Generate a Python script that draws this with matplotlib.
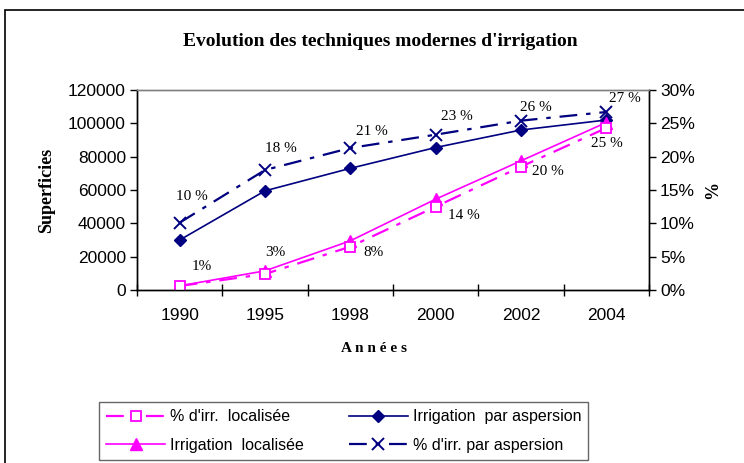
import matplotlib.pyplot as plt
import numpy as np
from matplotlib.patches import Rectangle

annees = ["1990", "1995", "1998", "2000", "2002", "2004"]
irr_aspersion = [30000, 59500, 73000, 85500, 96000, 102000]
irr_localisee = [2500, 11500, 29500, 54500, 77500, 100500]
pct_aspersion = [10.1, 18.0, 21.3, 23.3, 25.4, 26.7]
pct_localisee = [0.6, 2.4, 6.5, 12.5, 18.5, 24.3]
lbl_aspersion = ["10 %", "18 %", "21 %", "23 %", "26 %", "27 %"]
lbl_localisee = ["1%", "3%", "8%", "14 %", "20 %", "25 %"]

navy = "#000080"
rose = "#FF00FF"
serif = "Liberation Serif"
sans = "Liberation Sans"

fig = plt.figure(figsize=(7.44, 4.63), dpi=100)
fig.patches.append(Rectangle((5/744, -0.2), 1.2, 1 - 10/463 + 0.2, transform=fig.transFigure,
                             fill=False, edgecolor="black", linewidth=1.2))

ax = fig.add_axes([137/744, 1 - 290/463, 512/744, 200/463])
ax2 = ax.twinx()

x = np.arange(len(annees))

l_asp, = ax.plot(x, irr_aspersion, color=navy, lw=1.2, marker="D", ms=6.5,
                 label="Irrigation  par aspersion")
l_loc, = ax.plot(x, irr_localisee, color=rose, lw=1.2, marker="^", ms=8,
                 label="Irrigation  localisée")
p_asp, = ax2.plot(x, pct_aspersion, color=navy, lw=1.6, dashes=(8, 4, 2, 4),
                  marker="x", ms=8, mew=1.4, label="% d'irr. par aspersion")
p_loc, = ax2.plot(x, pct_localisee, color=rose, lw=1.6, dashes=(8, 4, 2, 4),
                  marker="s", ms=7, mfc="white", mec=rose, mew=1.3,
                  label="% d'irr.  localisée")

off_asp = [(12, 26), (16, 21), (22, 16), (21, 18), (15, 13), (19, 13)]
off_loc = [(22, 19), (10, 21), (23, -6), (28, -9), (27, -5), (1, -16)]
for i in range(len(annees)):
    ax2.annotate(lbl_aspersion[i], (x[i], pct_aspersion[i]), xytext=off_asp[i],
                 textcoords="offset pixels", ha="center", va="center",
                 fontsize=11, family=serif)
    ax2.annotate(lbl_localisee[i], (x[i], pct_localisee[i]), xytext=off_loc[i],
                 textcoords="offset pixels", ha="center", va="center",
                 fontsize=11, family=serif)

ax.set_xlim(-0.5, len(annees) - 0.5)
ax.set_ylim(0, 120000)
ax2.set_ylim(0, 30)
ax.set_yticks(np.arange(0, 120001, 20000))
ax2.set_yticks(np.arange(0, 31, 5))
ax2.set_yticklabels([f"{v}%" for v in range(0, 31, 5)])
ax.set_xticks(x)
ax.set_xticklabels(annees)
ax.set_xticks(np.arange(-0.5, len(annees)), minor=True)
ax.tick_params(axis="x", which="major", length=0, pad=13)
ax.tick_params(axis="x", which="minor", direction="inout", length=8, width=1)
ax.tick_params(axis="y", direction="out", length=5, width=1, pad=3)
ax2.tick_params(axis="y", direction="out", length=5, width=1, pad=3)

for a in (ax, ax2):
    for lab in a.get_xticklabels() + a.get_yticklabels():
        lab.set_family(sans)
        lab.set_fontsize(12.5)
    for s in a.spines.values():
        s.set_linewidth(1)
ax.spines["top"].set_color("#808080")
ax2.spines["top"].set_color("#808080")

ax.set_ylabel("Superficies", family=serif, fontweight="bold", fontsize=13, va="center")
ax.yaxis.set_label_coords((47 - 137) / 512, 0.5)
ax2.set_ylabel("%", family=serif, fontweight="bold", fontsize=13, va="center")
ax2.yaxis.set_label_coords((713 - 137) / 512, 0.5)
ax.set_xlabel("A n n é e s", family=serif, fontweight="bold", fontsize=11, va="center")
ax.xaxis.set_label_coords((374 - 137) / 512, -(348 - 290) / 200)

fig.text(380/744, 1 - 42/463, "Evolution des techniques modernes d'irrigation",
         ha="center", va="center", family=serif, fontweight="bold", fontsize=14)

leg = fig.legend([p_loc, l_loc, l_asp, p_asp],
                 [p_loc.get_label(), l_loc.get_label(), l_asp.get_label(), p_asp.get_label()],
                 ncol=2, loc="lower left", bbox_to_anchor=(99/744, 3/463),
                 frameon=True, fancybox=False, edgecolor="#404040",
                 prop={"family": sans, "size": 11.5}, handlelength=3.7, handletextpad=0.3,
                 borderaxespad=0, borderpad=0.45, columnspacing=2.8, labelspacing=0.85)
leg.get_frame().set_linewidth(1)

fig.savefig("out.png", dpi=100)
